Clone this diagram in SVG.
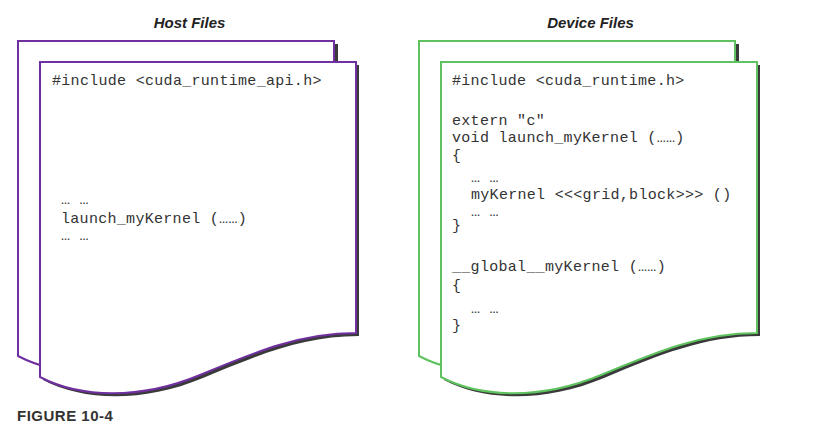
<svg xmlns="http://www.w3.org/2000/svg" width="824" height="434" viewBox="0 0 824 434">
<style>
.title{font-family:"Liberation Sans",Arial,sans-serif;font-weight:bold;font-style:italic;font-size:15px;fill:#222;text-anchor:middle}
.code{font-family:"Liberation Mono","Courier New",monospace;font-size:15px;letter-spacing:0.3px;fill:#333;white-space:pre}
.fig{font-family:"Liberation Sans",Arial,sans-serif;font-weight:bold;font-size:15px;fill:#333;letter-spacing:0.5px}
.shadow{fill:#3a3a3a;stroke:none}
.host{fill:#fff;stroke:#7030a0;stroke-width:2}
.dev{fill:#fff;stroke:#5ec35e;stroke-width:2}
</style>
<defs>
<path id="page" d="M0,0 H316 V271 C260,271 215,290 160,313 C100,338 40,336 0,315 Z"/>
</defs>
<rect width="824" height="434" fill="#fff"/>
<g id="connectors"/>
<g id="host-files">
<text class="title" x="189.5" y="28">Host Files</text>
<rect class="shadow" x="335" y="44" width="3" height="20"/>
<use href="#page" x="18" y="41" class="host"/>
<use href="#page" x="43" y="65" class="shadow"/>
<use href="#page" x="40" y="62" class="host"/>
<text class="code" x="52" y="85">#include &lt;cuda_runtime_api.h&gt;</text>
<text class="code" x="61" y="204">… …</text>
<text class="code" x="61" y="223">launch_myKernel (……)</text>
<text class="code" x="61" y="240">… …</text>
</g>
<g id="device-files">
<text class="title" x="590.5" y="28">Device Files</text>
<rect class="shadow" x="736" y="44" width="3" height="20"/>
<use href="#page" x="419" y="41" class="dev"/>
<use href="#page" x="444" y="65" class="shadow"/>
<use href="#page" x="441" y="62" class="dev"/>
<text class="code" x="452" y="85">#include &lt;cuda_runtime.h&gt;</text>
<text class="code" x="452" y="125">extern "c"</text>
<text class="code" x="452" y="142">void launch_myKernel (……)</text>
<text class="code" x="452" y="160">{</text>
<text class="code" x="471" y="182">… …</text>
<text class="code" x="471" y="199">myKernel &lt;&lt;&lt;grid,block&gt;&gt;&gt; ()</text>
<text class="code" x="471" y="216">… …</text>
<text class="code" x="452" y="230">}</text>
<text class="code" x="452" y="271">__global__myKernel (……)</text>
<text class="code" x="452" y="290">{</text>
<text class="code" x="471" y="313">… …</text>
<text class="code" x="452" y="330">}</text>
</g>
<text class="fig" x="17" y="421">FIGURE 10-4</text>
</svg>
